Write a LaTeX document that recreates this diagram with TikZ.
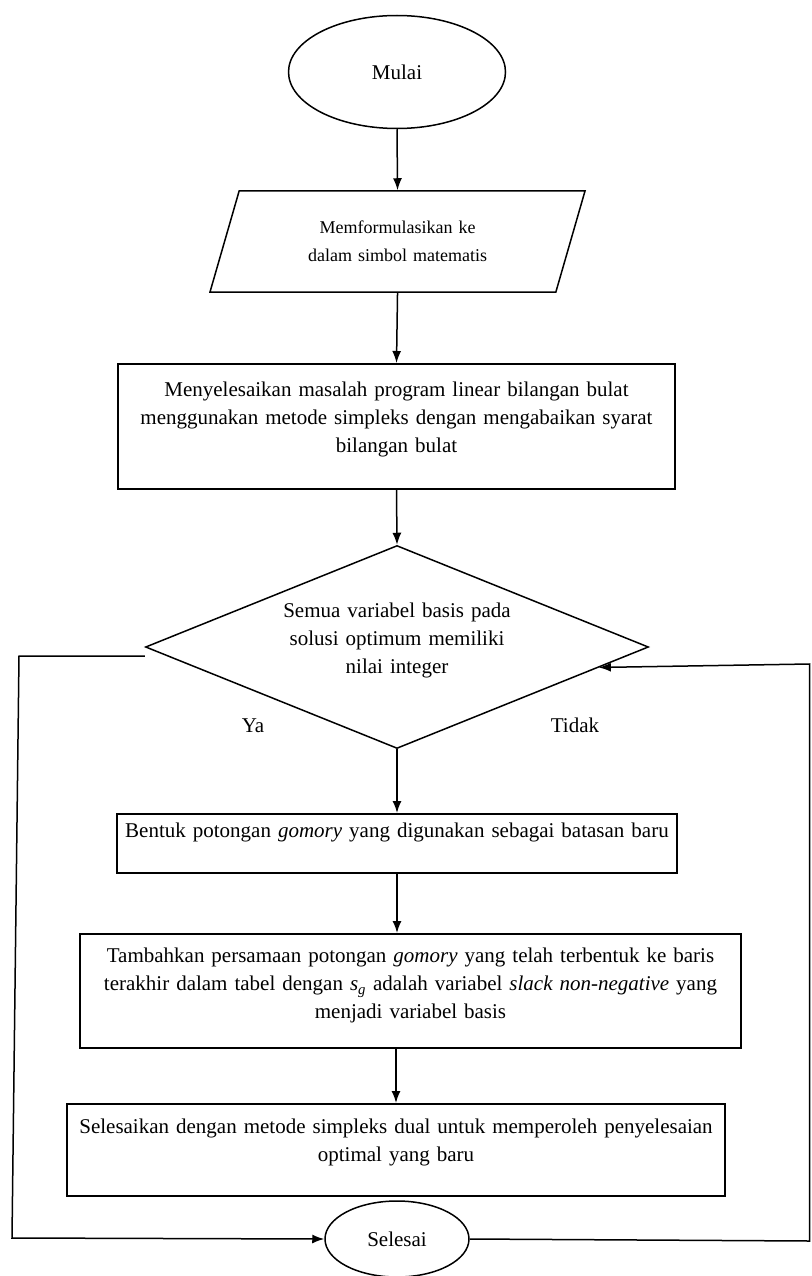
\documentclass[tikz,border=0pt]{standalone}
\usepackage{fontspec}
\setmainfont{Liberation Serif}
\usetikzlibrary{shapes.geometric,arrows.meta,calc}
\begin{document}
\begin{tikzpicture}[x=1pt,y=-1pt,
  every node/.style={font=\fontsize{21}{28}\selectfont},
  arr/.style={line width=1.5pt,-{Latex[length=12pt,width=9pt]}},
  box/.style={draw,line width=1.8pt,rectangle,inner xsep=0pt,inner ysep=0pt,align=center,anchor=north},
  term/.style={draw,line width=1.5pt,ellipse,inner sep=0pt},
  lbl/.style={inner sep=0pt},
]
\useasboundingbox[fill=white] (0,0) rectangle (811,1276);
\node[term,minimum width=217pt,minimum height=113pt] (mulai) at (397,72) {Mulai};
\node[draw,line width=1.5pt,trapezium,trapezium left angle=54.5,trapezium right angle=125.5,
  trapezium stretches body=true,minimum width=375pt,minimum height=101pt,inner sep=0pt,
  align=center,text width=250pt,font=\fontsize{18}{28}\selectfont] (form) at (397.5,241.5)
  {Memformulasikan ke\\dalam simbol matematis};
\node[box,text width=557pt,text height=33pt,text depth=92pt] (box1) at (396.5,363)
  {Menyelesaikan masalah program linear bilangan bulat\\menggunakan metode simpleks dengan mengabaikan syarat\\bilangan bulat};
\node[draw,line width=1.5pt,diamond,aspect=2.48,minimum width=503pt,minimum height=203pt,
  inner sep=0pt,text width=260pt,align=center,text height=14.5pt,text depth=74.5pt] (dia) at (397,647)
  {Semua variabel basis pada\\solusi optimum memiliki\\nilai integer};
\node[lbl] (ya) at (253,726) {Ya};
\node[lbl] (tidak) at (575,725) {Tidak};
\node[box,text width=560pt,text height=24pt,text depth=35pt] (box2) at (397,813)
  {Bentuk potongan \textit{gomory} yang digunakan sebagai batasan baru};
\node[box,text width=661pt,text height=29pt,text depth=85pt] (box3) at (410.5,933)
  {Tambahkan persamaan potongan \textit{gomory} yang telah terbentuk ke baris\\terakhir dalam tabel dengan \textit{s}\textsubscript{\textit{g}} adalah variabel \textit{slack non-negative} yang\\menjadi variabel basis};
\node[box,text width=658pt,text height=30pt,text depth=62pt] (box4) at (396,1103)
  {Selesaikan dengan metode simpleks dual untuk memperoleh penyelesaian\\optimal yang baru};
\node[term,minimum width=144pt,minimum height=76pt] (sel) at (397,1239) {Selesai};
\coordinate (tl) at (19,656);
\coordinate (bl) at (12,1238);
\coordinate (br) at (809.5,1241);
\coordinate (tr) at (809.5,664);
\coordinate (dtip) at ($(dia.east)!0.2!(dia.south)$);
\draw[arr] (mulai.south) -- (form.north);
\draw[arr] (form.south) -- (box1.north);
\draw[arr] (box1.south) -- (dia.north);
\draw[arr] (dia.south) -- (box2.north);
\draw[arr] (box2.south) -- (box2.south |- box3.north);
\draw[arr] (box4.north |- box3.south) -- (box4.north);
\draw[arr] ([yshift=-9pt]dia.west) -- (tl) -- (bl) -- (sel.west);
\draw[arr] (sel.east) -- (br) -- (tr) -- (dtip);
\end{tikzpicture}
\end{document}
